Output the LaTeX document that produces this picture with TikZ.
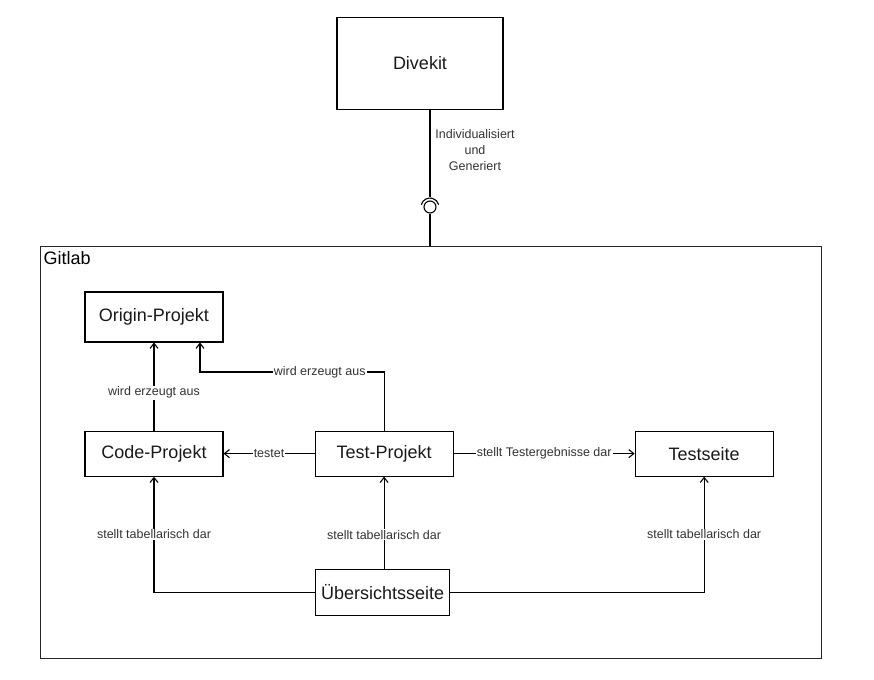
\documentclass[tikz,border=0pt]{standalone}
\usepackage{fontspec}
\setsansfont{Liberation Sans}
\usetikzlibrary{positioning}
\usetikzlibrary{arrows.meta}
\tikzset{%
	% Specifications for style of nodes:
	base/.style = {rectangle, draw=black, line width=1.1pt, text=black!90,
		inner sep=0pt, text centered, font=\fontsize{18pt}{20pt}\selectfont\sffamily},
	project/.style = {base, minimum width=138pt, minimum height=45pt},
	frame/.style = {base, draw=black!85, line width=1pt},
	edgeLabel/.style = {fill=white, inner sep=1pt, text=black!80,
		font=\fontsize{12.5pt}{16pt}\selectfont\sffamily},
	link/.style = {-{Straight Barb[length=5pt,width=8pt]}, line width=1.1pt}
}

\begin{document}
\begin{tikzpicture}[x=1pt, y=-1pt, every node/.style={font=\sffamily}]
		\useasboundingbox (0,0) rectangle (874,679);
		% outer parts
		\node (divekit) [base, minimum width=166pt, minimum height=92pt] at (420,63.5) {Divekit};
		\node (gitlab) [frame, minimum width=781pt, minimum height=412pt] at (430.5,452) {};
		\node (gitlabText) [anchor=north west, inner sep=0pt, font=\fontsize{18pt}{20pt}\selectfont\sffamily] at ([xshift=4pt,yshift=-6pt]gitlab.north west) {Gitlab};
		\node (ball) [circle, draw=black, line width=1.1pt, minimum size=12pt, inner sep=0pt] at (430,207) {};
		\draw[line width=1.1pt] (divekit.south -| ball) -- ([yshift=3pt]ball.north);
		\draw[line width=1.1pt] ([shift={(165:9pt)}]ball.center) arc [start angle=165, end angle=15, radius=9pt];
		\draw[line width=1.1pt] (ball.south) -- (ball |- gitlab.north);
		\node (divekitLabel) [edgeLabel, fill=none, align=center] at (475,150) {Individualisiert\\und\\Generiert};
		% projects
		\node (originProjekt) [project, minimum height=50pt] at (154,317) {Origin-Projekt};
		\node (codeProjekt) [project, below=88pt of originProjekt] {Code-Projekt};
		\node (testProjekt) [project, right=91pt of codeProjekt] {Test-Projekt};
		\node (testseite) [project, right=181pt of testProjekt] {Testseite};
		\node (uebersicht) [project, minimum width=134pt, minimum height=46pt, below=92pt of testProjekt, xshift=-1.5pt] {Übersichtsseite};
		% connectors
		\coordinate (originLink) at (200,372);
		\draw[link] (codeProjekt) -- node[edgeLabel, pos=0.43] {wird erzeugt aus} (originProjekt);
		\draw[link] (testProjekt.north) |- node[edgeLabel, pos=0.675] {wird erzeugt aus} (originLink) -- (originLink |- originProjekt.south);
		\draw[link] (testProjekt) -- node[edgeLabel] {testet} (codeProjekt);
		\draw[link] (testProjekt) -- node[edgeLabel] {stellt Testergebnisse dar} (testseite);
		\draw[link] (uebersicht) -| node[edgeLabel, pos=0.75] {stellt tabellarisch dar} (codeProjekt);
		\draw[link] (uebersicht.north -| testProjekt) -- node[edgeLabel, pos=0.37] {stellt tabellarisch dar} (testProjekt);
		\draw[link] (uebersicht) -| node[edgeLabel, pos=0.75] {stellt tabellarisch dar} (testseite);
	\end{tikzpicture}
\end{document}
